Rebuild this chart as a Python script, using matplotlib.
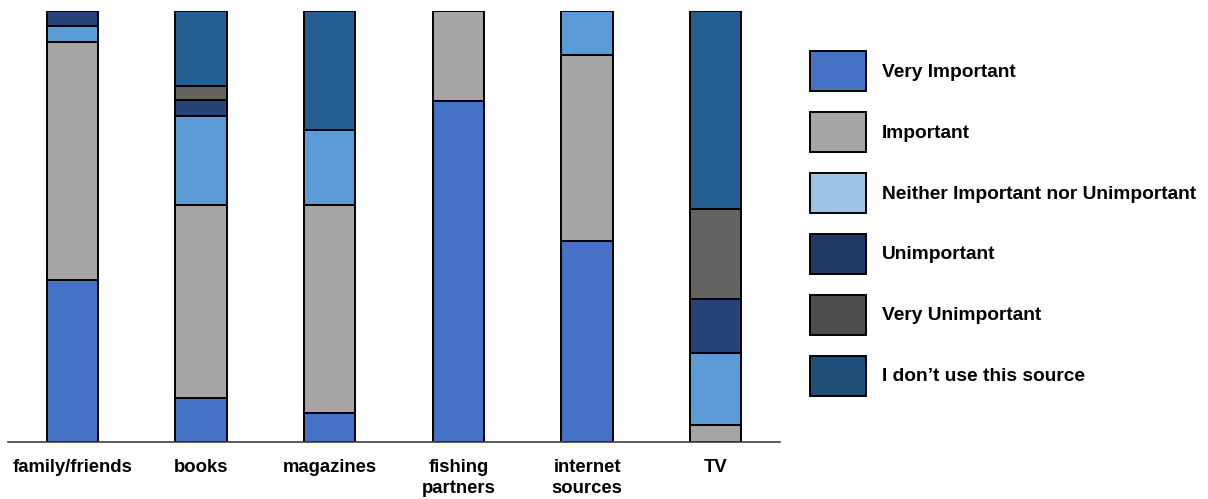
import numpy as np
import matplotlib
matplotlib.use("Agg")
import matplotlib.pyplot as plt
from matplotlib.patches import Patch

# Sources d'information et réponses (% des répondants)
sources = ["family/friends", "books", "magazines", "fishing\npartners", "internet\nsources", "TV"]
niveaux = ["Very Important", "Important", "Neither Important nor Unimportant",
           "Unimportant", "Very Unimportant", "I don\u2019t use this source"]

tres_important = [37.6, 10.2, 6.7, 79.1, 46.6, 0.0]
important = [55.2, 44.8, 48.3, 20.9, 43.2, 3.9]
ni_l_un_ni_l_autre = [3.7, 20.6, 17.4, 0.0, 10.2, 16.7]
pas_important = [3.5, 3.7, 0.0, 0.0, 0.0, 12.5]
pas_du_tout = [0.0, 3.2, 0.0, 0.0, 0.0, 20.9]
non_utilise = [0.0, 17.4, 27.6, 0.0, 0.0, 45.9]

couleurs_barres = ["#4472C4", "#A5A5A5", "#5B9BD5", "#264478", "#636363", "#255E91"]
couleurs_legende = ["#4472C4", "#A5A5A5", "#9DC3E6", "#203864", "#4D4D4D", "#1F4E79"]

plt.rcParams["font.family"] = ["Liberation Sans", "DejaVu Sans"]

fig = plt.figure(figsize=(12.08, 4.99), dpi=100)
ax = fig.add_axes([8 / 1208, 1 - 442 / 499, 772 / 1208, 431 / 499])

series = [tres_important, important, ni_l_un_ni_l_autre, pas_important, pas_du_tout, non_utilise]
x = np.arange(len(sources))
base = np.zeros(len(sources))
for valeurs, couleur in zip(series, couleurs_barres):
    valeurs = np.array(valeurs)
    masque = valeurs > 0
    ax.bar(x[masque], valeurs[masque], bottom=base[masque], width=0.4,
           color=couleur, edgecolor="black", linewidth=1.4)
    base += valeurs

ax.set_xlim(-0.5, 5.5)
ax.set_ylim(0, 100)
ax.set_xticks(x)
ax.set_xticklabels(sources, fontsize=13.3, fontweight="bold", linespacing=1.35)
ax.tick_params(axis="x", length=0, pad=12)
ax.set_yticks([])
for cote in ["top", "right", "left"]:
    ax.spines[cote].set_visible(False)
ax.spines["bottom"].set_color("#404040")
ax.spines["bottom"].set_linewidth(1.2)

poignees = [Patch(facecolor=c, edgecolor="black", linewidth=1.4) for c in couleurs_legende]
fig.legend(poignees, niveaux, loc="upper left", bbox_to_anchor=(810 / 1208, 1 - 51 / 499),
           frameon=False, borderpad=0, borderaxespad=0, handlelength=2.9, handleheight=2.85,
           labelspacing=1.08, handletextpad=0.84, prop={"size": 13.8, "weight": "bold"})

fig.savefig("out.png", dpi=100)
